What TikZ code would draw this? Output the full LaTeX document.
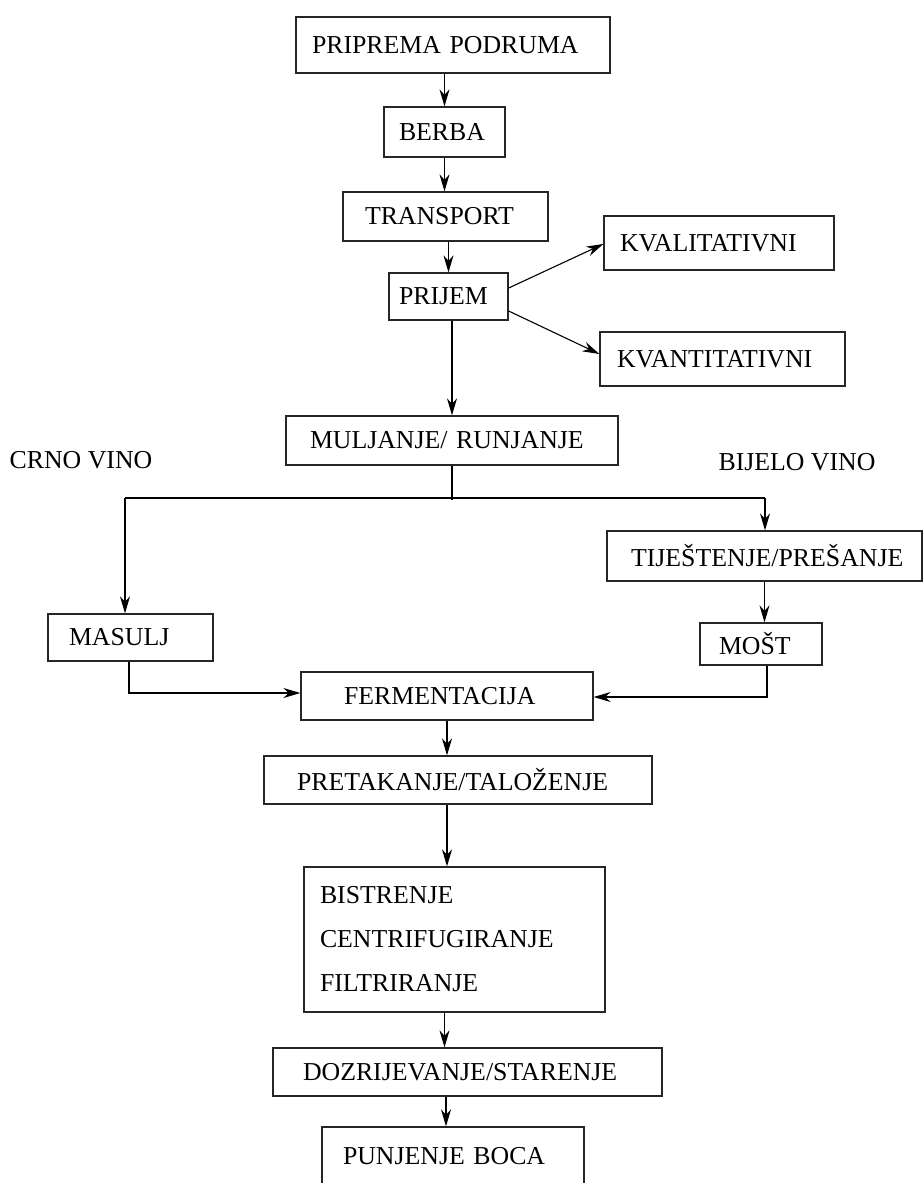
\documentclass[tikz,border=0pt]{standalone}
\usepackage{fontspec}
\setmainfont{Liberation Serif}
\usetikzlibrary{arrows.meta,calc}
\begin{document}
\begin{tikzpicture}[x=1pt,y=-1pt]
\tikzset{
  box/.style={draw=black!85, line width=1.3pt, rectangle, inner ysep=0pt, align=left,
    font=\fontsize{25.8}{44}\selectfont},
  arr/.style={line width=1.1pt, -{Stealth[length=17pt,width=10pt,inset=5.5pt]}},
  ln/.style={line width=1.1pt},
  lbl/.style={font=\fontsize{25.8}{31}\selectfont, inner sep=0pt}
}
\useasboundingbox (0,0) rectangle (923,1183);
\clip (0,0) rectangle (923,1183);

\node[box, text width=282pt, inner xsep=16pt, minimum height=56pt] (prip) at (453,45) {PRIPREMA PODRUMA};
\node[box, text width=91pt, inner xsep=15pt, minimum height=50pt] (berba) at (444.5,132) {BERBA};
\node[box, text width=161pt, inner xsep=22pt, minimum height=49pt] (transport) at (445.5,216.5) {TRANSPORT};
\node[box, text width=99pt, inner xsep=10pt, minimum height=47pt] (prijem) at (448.5,296.5) {PRIJEM};
\node[box, text width=198pt, inner xsep=16pt, minimum height=54pt] (kval) at (719,243) {KVALITATIVNI};
\node[box, text width=211pt, inner xsep=17pt, minimum height=54pt] (kvant) at (722.5,359) {KVANTITATIVNI};
\node[box, text width=284pt, inner xsep=24pt, minimum height=49pt] (mulj) at (452,440.5) {MULJANJE/ RUNJANJE};
\node[lbl] (crno) at (81,460) {CRNO VINO};
\node[lbl] (bijelo) at (797,462) {BIJELO VINO};
\node[box, text width=267pt, inner xsep=24pt, minimum height=50pt] (tijes) at (764.5,556) {TIJEŠTENJE/PREŠANJE};
\node[box, text width=123pt, inner xsep=21pt, minimum height=47pt] (masulj) at (130.5,637.5) {MASULJ};
\node[box, text width=84pt, inner xsep=19pt, minimum height=42pt] (most) at (761,644) {MOŠT};
\node[box, text width=206pt, inner xsep=43pt, minimum height=48pt] (ferm) at (447,696) {FERMENTACIJA};
\node[box, text width=322pt, inner xsep=33pt, minimum height=48pt] (pretak) at (458,780) {PRETAKANJE/TALOŽENJE};
\node[box, text width=269pt, inner xsep=16pt, minimum height=145pt] (bistr) at (454.5,939.5) {BISTRENJE\\CENTRIFUGIRANJE\\FILTRIRANJE};
\node[box, text width=329pt, inner xsep=30pt, minimum height=48pt] (dozr) at (467.5,1072) {DOZRIJEVANJE/STARENJE};
\node[box, text width=220pt, inner xsep=21pt, minimum height=58pt] (punj) at (453,1156) {PUNJENJE BOCA};

\coordinate (jl) at (125,498);
\coordinate (jr) at (765,498);
\coordinate (jm) at (453,500);

\draw[arr] (berba.north |- prip.south) -- (berba.north);
\draw[arr] (berba.south) -- (berba.south |- transport.north);
\draw[arr] (prijem.north |- transport.south) -- (prijem.north);
\draw[arr] (mulj.north |- prijem.south) -- (mulj.north);
\draw[arr] ([yshift=8.5pt]prijem.east) -- ([yshift=-1pt]kval.west);
\draw[arr] ([yshift=-14.5pt]prijem.east) -- ([yshift=5pt]kvant.west);
\draw[ln] (mulj.south) -- (mulj.south |- jm);
\draw[ln] (jl) -- (jr);
\draw[arr] (jl) -- (jl |- masulj.north);
\draw[arr] (jr) -- (jr |- tijes.north);
\draw[arr] (tijes.south) -- (tijes.south |- most.north);
\draw[arr] ([xshift=-1.5pt]masulj.south) |- ([yshift=3pt]ferm.west);
\draw[arr] ([xshift=6pt]most.south) |- ([yshift=-1pt]ferm.east);
\draw[arr] (ferm.south) -- (ferm.south |- pretak.north);
\draw[arr] (pretak.south -| ferm.south) -- (bistr.north -| ferm.south);
\draw[arr] ([xshift=-10pt]bistr.south) -- ([xshift=-10pt]bistr.south |- dozr.north);
\draw[arr] ([xshift=-7pt]punj.north |- dozr.south) -- ([xshift=-7pt]punj.north);
\end{tikzpicture}
\end{document}
